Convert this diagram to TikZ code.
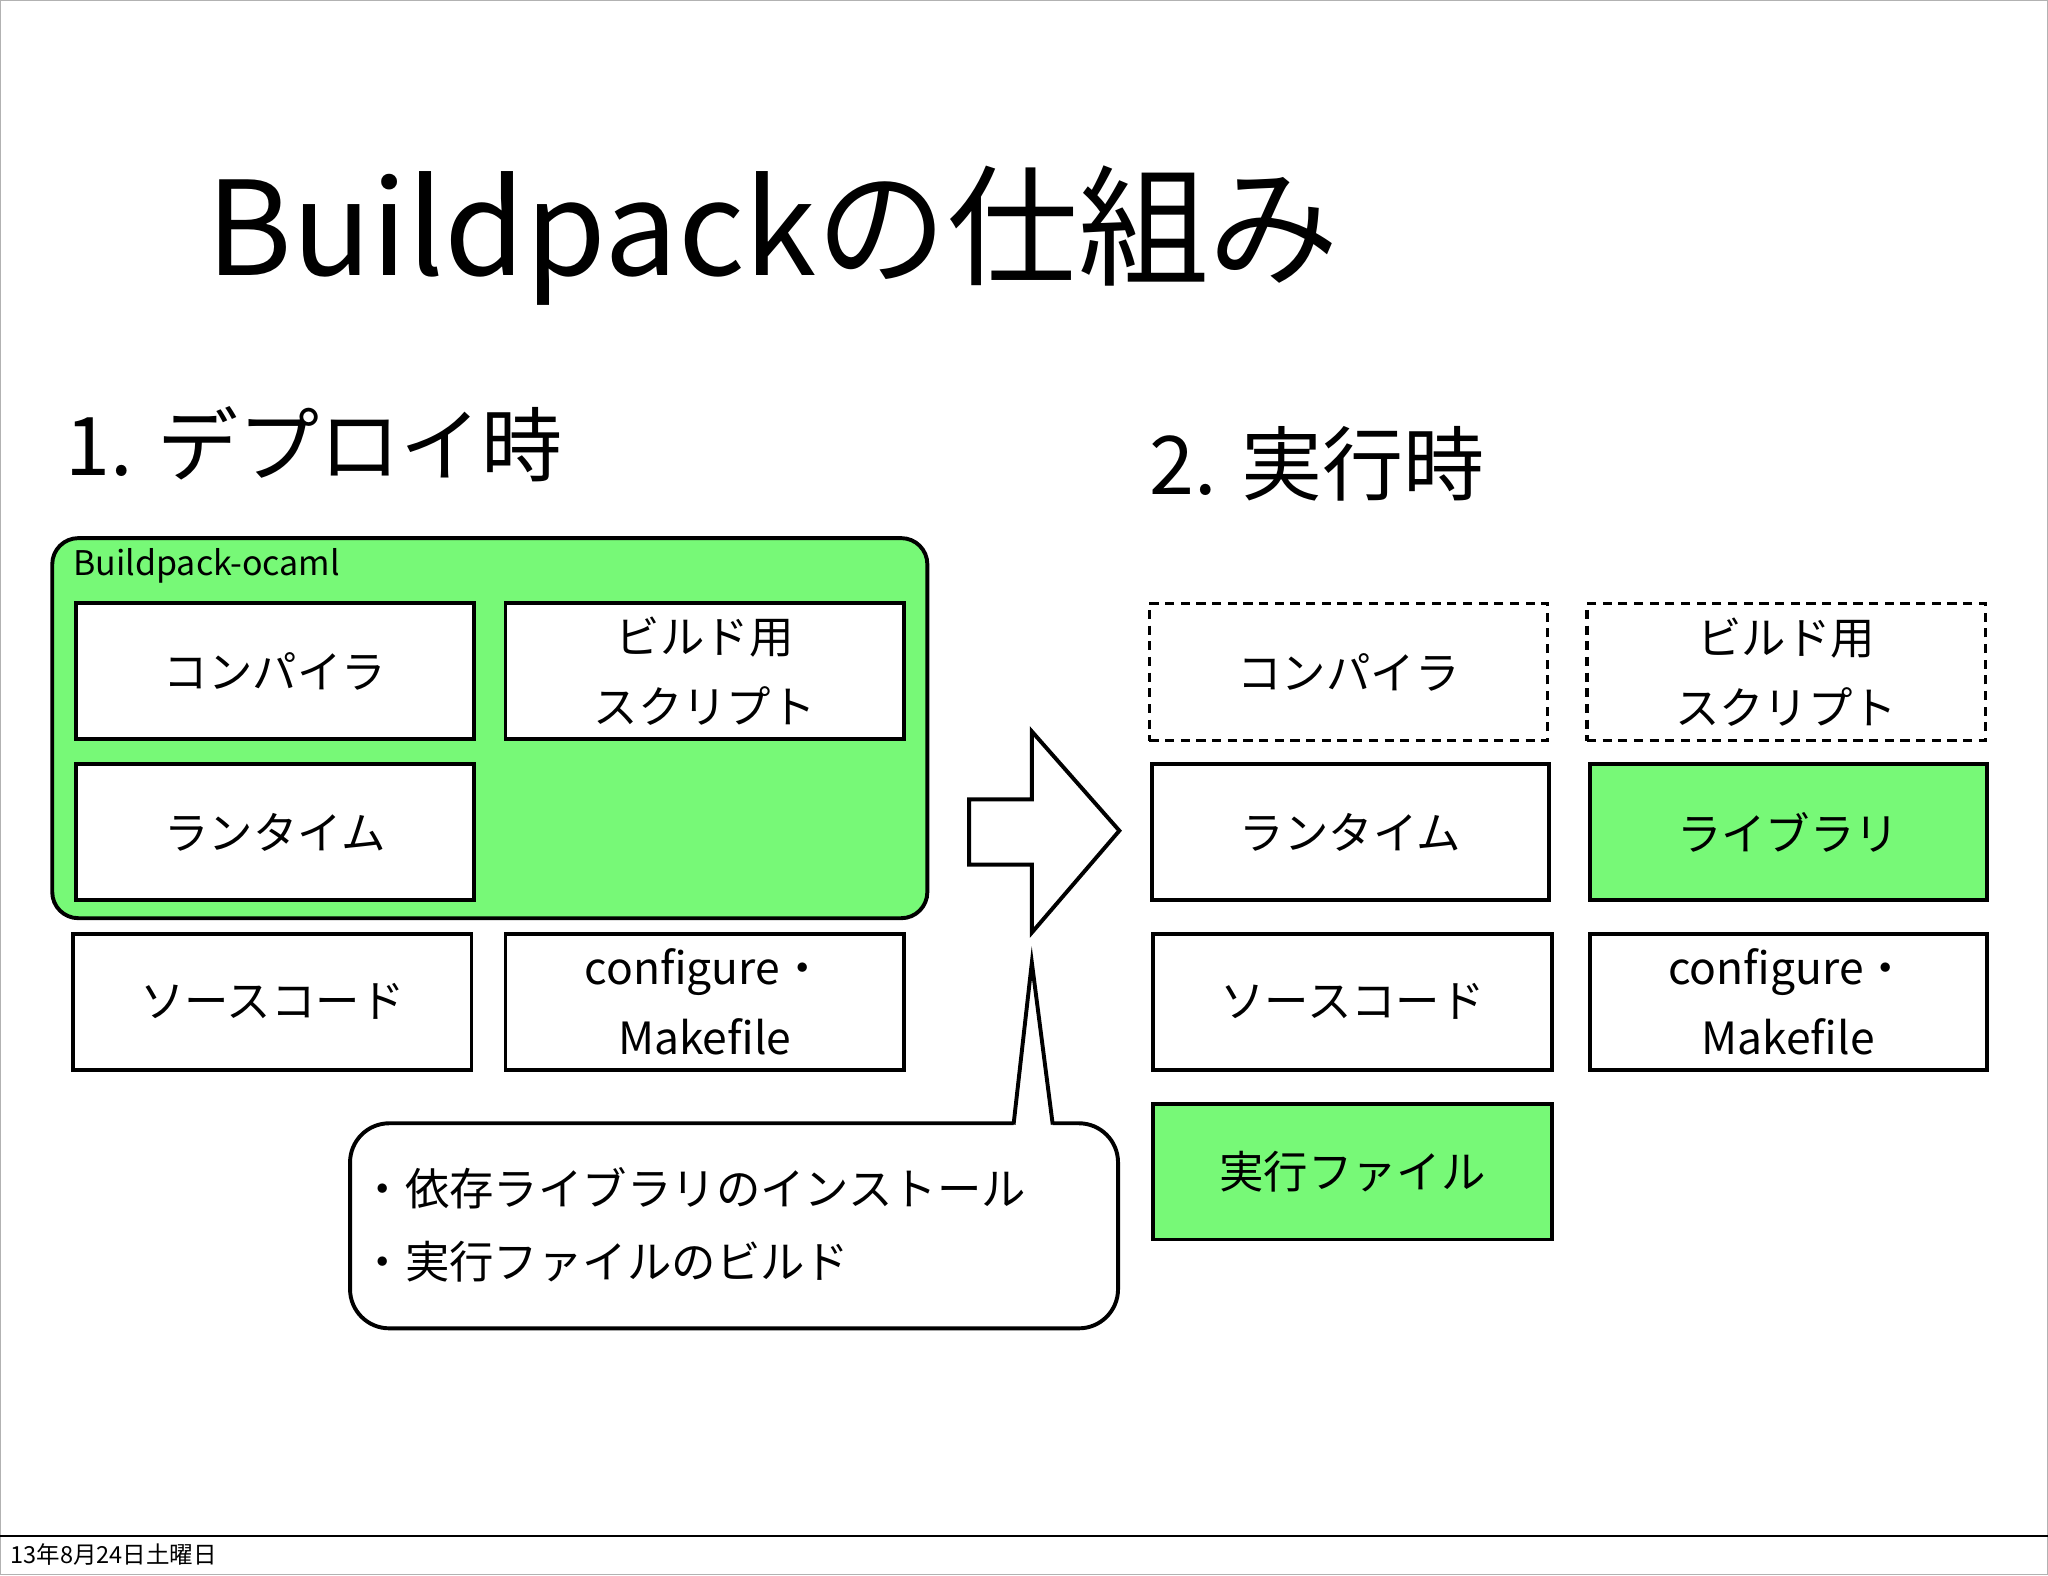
\documentclass[tikz,border=0pt]{standalone}
\usepackage{fontspec}
\setmainfont{Noto Sans CJK JP}
\definecolor{g}{HTML}{77F977}
\begin{document}
\begin{tikzpicture}[x=1pt,y=-1pt,
 box/.style={draw,line width=3pt,align=center,font=\fontsize{34}{54}\selectfont},
 dsh/.style={dash pattern=on 7pt off 5pt,line width=2.5pt},
 lbl/.style={anchor=west,inner sep=0}]
\useasboundingbox (0,0) rectangle (1568,1206);
\draw[gray!60,line width=1pt] (0.5,0.5) rectangle (1567.5,1205.5);
\draw[line width=1pt] (0,1176) -- (1568,1176);
\node[lbl,font=\fontsize{18}{20}\selectfont] (foot) at (8,1190) {13年8月24日土曜日};
\node[lbl,font=\fontsize{100}{110}\selectfont] (title) at (158,180) {Buildpackの仕組み};
\node[lbl,font=\fontsize{62}{70}\selectfont] (h1) at (50,340) {1. デプロイ時};
\node[lbl,font=\fontsize{62}{70}\selectfont] (h2) at (880,355) {2. 実行時};
\draw[fill=g,line width=3pt,rounded corners=20pt] (40,412) rectangle (710,703);
\node[lbl,font=\fontsize{26}{30}\selectfont] (bp) at (56,433) {Buildpack-ocaml};
\newcommand{\bx}[6]{\node[box,minimum width=#3-#1,minimum height=#4-#2,#5] at ({(#1+#3)/2},{(#2+#4)/2}) {#6};}
\bx{58}{462}{363}{566}{fill=white}{コンパイラ}
\bx{387}{462}{692}{566}{fill=white}{ビルド用\\スクリプト}
\bx{58}{585}{363}{689}{fill=white}{ランタイム}
\bx{56}{715}{361}{819}{}{ソースコード}
\bx{387}{715}{692}{819}{}{configure・\\Makefile}
\bx{880}{462}{1185}{567}{dsh}{コンパイラ}
\bx{1215}{462}{1520}{567}{dsh}{ビルド用\\スクリプト}
\bx{882}{585}{1186}{689}{}{ランタイム}
\bx{1217}{585}{1521}{689}{fill=g}{ライブラリ}
\bx{883}{715}{1188}{819}{}{ソースコード}
\bx{1217}{715}{1521}{819}{}{configure・\\Makefile}
\bx{883}{845}{1188}{949}{fill=g}{実行ファイル}
\draw[line width=3pt,line join=miter] (742,612)--(790,612)--(790,560)--(857,636)--(790,714)--(790,662)--(742,662)--cycle;
\draw[line width=3pt,rounded corners=30pt] (776,860) -- (268,860) -- (268,1017) -- (856,1017) -- (856,860) -- (806,860);
\draw[line width=3pt,line join=miter] (776,861) -- (790,737) -- (806,861);
\node[lbl,align=left,font=\fontsize{34}{56}\selectfont] (cl) at (276,938) {・依存ライブラリのインストール\\・実行ファイルのビルド};
\end{tikzpicture}
\end{document}
